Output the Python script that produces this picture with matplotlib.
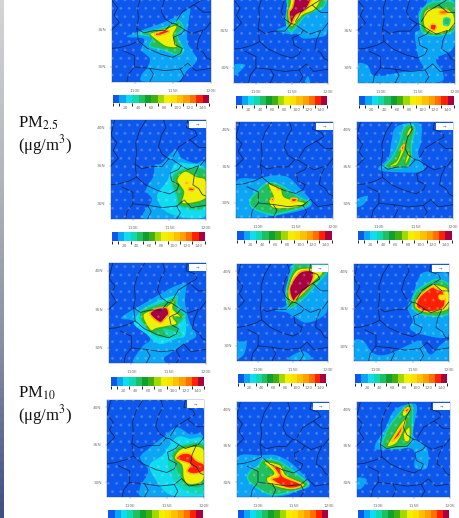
import numpy as np
import matplotlib.pyplot as plt
from matplotlib.colors import ListedColormap, BoundaryNorm, LinearSegmentedColormap
from matplotlib.cm import ScalarMappable
from matplotlib.patches import PathPatch, Rectangle
from matplotlib.path import Path

plt.rcParams['mathtext.fontset'] = 'stix'

W, H = 459, 518

# color scale (ug/m3)
levels = list(range(0, 160, 10))
bar_ticks = [20, 40, 60, 80, 100, 120, 140]
bar_colors = ['#0c58ec', '#0aa5f5', '#10dcf0', '#10d8b0', '#20c060', '#10a030', '#40b010', '#a0d800',
              '#f0f000', '#ffe000', '#ffc000', '#ffa000', '#ff7000', '#ff2000', '#a80040']
# band of the next lower class drawn round a filled contour
ring_levels = {45: 35, 85: 65, 115: 95, 125: 105, 135: 105, 145: 115}
lon_ticks = [110, 115, 120]
lat_ticks = [30, 35, 40]

# province lines, lon/lat
borders = [
    [(111.8, 41), (110.9, 39.6), (110.4, 38), (110.5, 36.5), (110.3, 35.2), (111.2, 34.6), (112.5, 34.9),
     (114, 34.9), (114.9, 35.9), (114, 36.5), (113.5, 37.5), (113.9, 39), (114.5, 40), (114.2, 41)],
    [(110.5, 33.5), (111.7, 32.5), (113.5, 31.7), (115, 31.3), (116, 31.8), (116.3, 32.5), (115.3, 33),
     (115.1, 34), (116.2, 34.5), (116.6, 35), (115.4, 35.8), (114.9, 35.9)],
    [(110.3, 35.2), (110.5, 33.5), (109.5, 33), (108, 32.6), (107, 32.5)],
    [(115.5, 36.2), (116.3, 37.5), (117.8, 38.4), (119, 37.4), (120, 37.4)],
    [(116.6, 35), (117.5, 34.5), (119, 35), (118.4, 33.7), (118.2, 32.5), (119, 32), (119.5, 31.2), (120, 31)],
    [(119.2, 35), (120, 36)],
    [(108.5, 32.2), (110, 31.5), (110, 30), (109.2, 29), (109, 28)],
    [(110, 30), (112, 29.8), (114, 29.5), (116, 29.7), (117, 30.5), (118, 29.5), (120, 29.8)],
    [(116, 29.7), (116.5, 28.8), (116, 28)],
    [(107.5, 41), (107, 39), (107.8, 38), (107.3, 37), (108, 36), (107, 35)],
    [(117.5, 41), (117.3, 40), (118.5, 39.6), (118.8, 39), (117.8, 38.4)],
    [(112, 28), (112.5, 29), (112, 29.8)],
]

# each panel: (level, outline) from low to high
pm25_a = [
    (15, [(117.3, 37.9), (116.2, 37.2), (114, 36.1), (111.6, 35.2), (109, 34.1), (111.2, 33.8), (110.9, 32.3),
          (112, 31.1), (111.6, 29.8), (110.9, 28.9), (111.2, 28), (115.6, 28), (116.9, 29.5), (118.2, 30.9),
          (117.5, 32.3), (116.9, 33.6), (117.1, 36.3)]),
    (45, [(110.5, 34.5), (112.9, 35), (114.7, 35.6), (115.8, 36.2), (116.4, 35.2), (115.6, 34.2), (116.4, 32.3),
          (115.6, 31.6), (113.8, 32.3), (112, 32.8), (112.4, 34)]),
    (85, [(112, 34.5), (113.8, 35), (115.1, 35.6), (115.6, 35.4), (115.1, 34.2), (115.6, 32.7), (114.2, 32.7),
          (113.1, 33.4)]),
    (135, [(112.7, 34.5), (114.2, 35), (114.5, 34.7), (113.1, 34.2)]),
]
pm25_b = [
    (15, [(112.9, 35), (114.3, 35.8), (114.5, 37.6), (114.7, 41), (120, 41), (120, 36.3), (119.8, 34.5),
          (118.9, 34.1), (116.6, 33.9), (115.7, 34.5), (114.5, 34.5)]),
    (15, [(107, 30.4), (108.5, 30.4), (107.8, 29.5), (107, 29)]),
    (15, [(116.8, 28), (117.2, 28.9), (117.5, 28)]),
    (45, [(114.7, 34.9), (114.2, 36.3), (114.4, 38.2), (114.6, 41), (119.8, 41), (119.4, 38.2), (117.5, 37.4),
          (116.4, 36.5), (115.4, 35.2)]),
    (85, [(114.6, 35.8), (114.4, 37.4), (114.7, 38.5), (115.4, 41), (119.4, 41), (118.4, 38), (116.5, 37),
          (115.2, 35.6)]),
    (145, [(114.8, 36), (114.6, 37.4), (115.1, 38.2), (115.9, 41), (118.2, 41), (117.1, 38), (115.6, 37),
           (115, 35.9)]),
]
pm25_c = [
    (15, [(116.2, 38.7), (115.1, 37.4), (115.3, 35.2), (114.6, 34.5), (115.1, 31.4), (115.7, 29.9), (113.5, 29.5),
          (110.8, 29), (109.5, 28), (117.5, 28), (118.4, 29.3), (117.5, 31.2), (120, 33.2), (120, 41), (116.2, 41)]),
    (15, [(107, 30.5), (108.3, 30.3), (109, 29), (110.8, 28.9), (109.5, 28), (107, 28)]),
    (45, [(116.4, 38.5), (115.3, 36.9), (115.7, 34.7), (117.5, 34.3), (119.3, 34.7), (120, 35.4), (120, 38.5),
          (118.4, 38.9)]),
    (85, [(116.2, 37.8), (115.7, 36.4), (116.2, 34.9), (117.9, 34.5), (119.8, 35.4), (119.8, 37.2), (118.4, 38)]),
    (45, [(118.6, 36.6), (119.3, 36.5), (119.1, 35.7), (118.5, 35.8)]),
    (135, [(116.8, 35.8), (117.5, 35.7), (117.3, 35), (116.7, 35.2)]),
    (125, [(118, 37.6), (119, 37.7), (118.8, 37.2), (118, 37.2)]),
]
pm25_d = [
    (15, [(115.8, 37.1), (113.9, 35.3), (113, 35.1), (112.8, 33.6), (111.8, 31.8), (112.6, 30.5), (111.4, 28.7),
          (111.9, 28), (120, 28), (120, 35.1), (118.5, 35.3), (116.7, 36)]),
    (25, [(115.8, 35.3), (115.1, 34), (114.6, 32.9), (113.3, 30.9), (115.1, 28.7), (120, 28.5), (120, 34.4),
          (117.4, 35.3)]),
    (45, [(116.5, 34.4), (115.3, 33.1), (116, 30.9), (116.5, 29.6), (120, 29.6), (120, 34.4)]),
    (85, [(117.1, 34.3), (116, 33.1), (116.9, 31.6), (116.8, 30), (120, 30.7), (120, 33.1), (118.7, 33.6)]),
    (135, [(117.7, 32.1), (118.4, 32), (118.2, 31.7), (117.6, 31.8)]),
    (115, [(117.2, 32.9), (117.6, 32.9), (117.5, 32.5), (117.1, 32.6)]),
]
pm25_e = [
    (15, [(107, 32.9), (110, 33.3), (112, 33.75), (114, 33.5), (115.6, 32), (117.2, 30), (115.8, 29), (111.6, 28.2),
          (107, 28)]),
    (45, [(109.8, 31.5), (111.2, 32.7), (113, 32.4), (115.5, 30.8), (116.9, 30), (115.7, 29.3), (113, 28.6),
          (111.8, 28.4), (109.3, 29.3), (108.9, 30.4)]),
    (85, [(111.3, 32.6), (113, 32), (113.6, 30.8), (116.3, 30), (114.7, 29.3), (112, 29.3), (111.4, 30.4),
          (112, 30.8)]),
    (135, [(112.5, 32.1), (112.9, 32), (112.7, 31.7)]),
    (135, [(111.7, 30.6), (112.1, 30.6), (111.9, 30.2)]),
    (135, [(114.4, 30.6), (115.2, 30.6), (115, 30.2), (114.5, 30.2)]),
]
pm25_f = [
    (15, [(112.4, 40.4), (115.5, 40.8), (115.7, 38.4), (115.3, 36.7), (116, 34.4), (112.4, 34.2), (109.9, 34.6),
          (111.3, 36.2), (111.7, 38.4)]),
    (15, [(107, 30.5), (108.5, 31), (108, 29.9), (107, 29.5)]),
    (45, [(113.5, 40.4), (114.8, 40.3), (114.4, 38), (114, 35.1), (110.9, 34.9), (111.8, 36.2), (112.7, 38)]),
    (85, [(111.3, 35), (112.4, 35.8), (113.1, 37.5), (113.7, 38.4), (113.5, 37.3), (112.6, 35.4), (111.9, 35)]),
    (85, [(114, 40), (114.5, 40.3), (114.2, 39.3), (113.7, 39.1)]),
    (85, [(113.5, 35.5), (114, 37.1), (114.2, 36.4), (113.7, 35.3)]),
    (135, [(113, 37.5), (113.5, 38), (113.2, 37.2)]),
]
pm10_a = [
    (15, [(116.7, 38.3), (115.2, 37.7), (112.5, 36.2), (108.7, 34), (110, 33.6), (110.7, 33.1), (112.5, 31.2),
          (111.4, 30.1), (110.3, 28), (114.3, 28), (114.5, 28.8), (117.4, 30.7), (118.7, 31.6), (117.8, 33.3),
          (117.2, 36), (117.4, 38.3)]),
    (25, [(115.8, 36.8), (112, 35.3), (110.3, 33.3), (112, 31.8), (113.8, 30.5), (116, 31.2), (117.2, 31.6),
          (117.2, 34), (116, 36)]),
    (45, [(116.1, 36.7), (115, 36.2), (111.2, 34.7), (112, 32.5), (113.8, 31.4), (116.7, 31.6), (116.1, 32.7),
          (117.2, 34.2), (116.1, 35.3)]),
    (85, [(115.8, 36.2), (114.5, 35.3), (111.6, 34.4), (112.5, 32.3), (113.4, 32.5), (114.5, 32.7), (116.1, 33.1),
          (115.6, 34), (116.7, 34), (115.6, 35.1)]),
    (35, [(114.3, 32.5), (116.7, 31.8), (115.2, 31.4)]),
    (145, [(114.7, 35.2), (113.4, 35.1), (112.5, 34.4), (113.8, 33.3), (114.5, 33.8), (115, 34.4)]),
]
pm10_b = [
    (15, [(112.4, 34.8), (114.3, 35.8), (114.3, 39.2), (115.2, 41), (120, 41), (120, 35.6), (119.3, 34), (116.9, 33.1),
          (115, 34), (114, 34.5)]),
    (15, [(107, 30.4), (108.3, 30.4), (107.9, 28.8), (107, 28.4)]),
    (15, [(114.3, 28.2), (116.4, 29.3), (117.6, 28.2)]),
    (45, [(114.5, 35.1), (114, 37.4), (115, 40.3), (115.5, 41), (120, 40.8), (120, 40.1), (117.9, 37.8), (116.4, 36.3)]),
    (85, [(114.6, 35.8), (114.3, 37.8), (115.7, 40.3), (119.3, 40.1), (117.9, 38.5), (116.2, 36.7)]),
    (145, [(115, 36), (114.5, 37.8), (116, 39.9), (117.9, 39.9), (117.4, 38.1), (115.7, 36.7)]),
]
pm10_c = [
    (15, [(116.2, 39.7), (114.9, 36.6), (114.3, 35.2), (115, 33.4), (114.6, 32.5), (115.5, 31.8), (119.1, 31.1),
          (120, 32.3), (120, 39.2), (118.3, 39.8)]),
    (15, [(107, 30.7), (108.3, 30.7), (109.6, 29.1), (111.5, 28.9), (114.9, 30.4), (116, 30.7), (117.4, 28.9),
          (118.8, 30.2), (120, 30.7), (120, 28), (107, 28)]),
    (45, [(117.4, 38.6), (115.5, 37.3), (115, 35.2), (116.9, 34.1), (120, 34.5), (120, 38), (118.5, 38.9)]),
    (85, [(117.6, 38.2), (115.8, 36.8), (115.3, 35.2), (117.1, 34.5), (119.9, 35), (119.9, 37.5), (118.5, 38.2)]),
    (135, [(117.6, 37.9), (115.9, 36.6), (115.6, 35.2), (117.4, 34.6), (119.3, 35.3), (119.2, 37.2), (118.2, 37.7)]),
    (90, [(118.6, 36.9), (119.4, 36.8), (119.3, 36.2), (118.6, 36.3)]),
]
pm10_d = [
    (15, [(116.3, 37.3), (114.5, 36), (112.7, 34.6), (111.4, 33.3), (112.5, 31.5), (111.4, 29.3), (112.1, 28), (120, 28),
          (120, 35.8), (118.1, 36.4)]),
    (25, [(116.3, 36), (114.5, 33.7), (112.7, 32.2), (114.1, 29.5), (115.9, 28.2), (120, 28.2), (120, 35.3),
          (118.1, 35.8)]),
    (35, [(116.1, 34.4), (115.2, 33.3), (115.4, 31.5), (116.8, 29.3), (120, 28.8), (120, 34.9), (117.7, 35)]),
    (45, [(117, 34.9), (115.7, 33.8), (116.1, 32.2), (116.8, 30.4), (117.4, 29.5), (120, 29.7), (120, 34.9)]),
    (85, [(117.2, 34.6), (116, 33.3), (117, 32.2), (117.2, 30.6), (117.9, 29.7), (120, 30.4), (120, 34.4)]),
    (135, [(117, 33.8), (116.3, 33.1), (118.1, 32.4), (117.7, 31.5), (118.6, 31.1), (120, 31.5), (120, 32.4),
           (119, 32.9), (118.1, 33.8)]),
]
pm10_e = [
    (15, [(107, 33.3), (110.3, 33.7), (112.6, 33.7), (115, 32.4), (117.3, 29.7), (115.5, 28.8), (113.1, 28.1), (107, 28)]),
    (45, [(110, 32.2), (110.8, 33.1), (113.1, 32.8), (115.9, 30.8), (117.1, 29.7), (115, 28.8), (112.2, 28.3),
          (110.3, 29), (108.6, 30.4), (108.9, 31.5)]),
    (85, [(110.8, 32.8), (113.1, 32.4), (114, 31), (116.6, 29.7), (114.5, 29), (111.7, 29.7), (111.2, 30.6),
          (112.2, 31.3)]),
    (135, [(111.9, 32.4), (113.1, 31.9), (113.6, 30.8), (116.2, 29.7), (114.3, 29.2), (111.9, 30.4), (112.9, 30.8),
           (112.6, 31.5)]),
]
pm10_f = [
    (15, [(109.6, 34.6), (111, 37.4), (112.1, 39.7), (113.7, 40.6), (115.4, 40.4), (114.9, 36.5), (116.8, 34.7),
          (116.8, 32), (115.1, 32), (115.1, 33.8), (114.2, 34.7)]),
    (15, [(107, 30.6), (108.4, 30.4), (107.7, 29.2), (107, 29.2)]),
    (45, [(110.7, 34.9), (111.4, 37.4), (113, 39.5), (113.9, 40.4), (114.7, 40.4), (114.7, 37), (114, 34.9)]),
    (85, [(111.2, 34.9), (112.1, 36.5), (113.3, 38.3), (114, 38.8), (113.7, 37.4), (112.6, 35.4)]),
    (85, [(113.3, 39.5), (114, 40.4), (114.7, 40.1), (113.7, 39)]),
    (85, [(113.7, 35.6), (113.5, 36.7), (114.4, 37.6), (114.4, 35.8)]),
    (135, [(111.9, 35.6), (112.8, 37), (113.5, 37.9), (113, 36.5)]),
    (135, [(113.7, 39.9), (114.4, 40.2), (114, 39.6)]),
]

# pixel boxes: left, top, right, bottom
map_boxes = [
    (111.7, -14.5, 210.7, 81.7), (234.3, -14.5, 328, 82.7), (358, -14.5, 455, 82.7),
    (111, 120, 206, 219), (236, 122, 332.7, 217.7), (356.7, 122, 453, 218),
    (109, 263, 206, 363.3), (237.3, 264, 328, 360.7), (354, 264, 449.3, 361.3),
    (107.3, 399.7, 204, 497.3), (236.7, 402, 329, 497), (356.7, 402, 450, 497),
]
bar_boxes = [
    (113, 94.7, 209, 103), (236, 96, 326.7, 104.7), (359, 96, 454, 105),
    (112, 232, 204.7, 241), (237.3, 231, 331.7, 240), (358, 231, 451.7, 240),
    (110.7, 377, 204.3, 385.7), (238, 374, 326.3, 383), (355.3, 374.3, 447.3, 383),
    (108.3, 510.3, 202.7, 520), (238.3, 510, 327.7, 520), (358, 510, 449, 520),
]
panels = [pm25_a, pm25_b, pm25_c, pm25_d, pm25_e, pm25_f, pm10_a, pm10_b, pm10_c, pm10_d, pm10_e, pm10_f]

cmap = ListedColormap(bar_colors)
norm = BoundaryNorm(levels, cmap.N)
tick_gray = '#777777'


def rect(box):
    l, t, r, b = box
    return [l / W, 1 - b / H, (r - l) / W, (b - t) / H]


def smooth(points):
    # closed curve through the read points (catmull-rom as bezier)
    pts = np.array(points, dtype=float)
    n = len(pts)
    verts, codes = [pts[0]], [Path.MOVETO]
    for i in range(n):
        p0, p1, p2, p3 = pts[i - 1], pts[i], pts[(i + 1) % n], pts[(i + 2) % n]
        verts += [p1 + (p2 - p0) / 6, p2 - (p3 - p1) / 6, p2]
        codes += [Path.CURVE4] * 3
    return Path(verts, codes)


fig = plt.figure(figsize=(W / 100, H / 100), dpi=100, facecolor='white')

# slide edge
strip = fig.add_axes(rect((0, 0, 3.5, H)))
strip_cmap = LinearSegmentedColormap.from_list('edge', ['#d4d4d6', '#b4b6bc', '#8a90a4', '#3f4f86'])
strip.imshow(np.linspace(0, 1, 64).reshape(-1, 1), aspect='auto', cmap=strip_cmap)
strip.axis('off')

for i, (panel, box, bar) in enumerate(zip(panels, map_boxes, bar_boxes)):
    ax = fig.add_axes(rect(box))
    ax.set_xlim(107, 120)
    ax.set_ylim(28, 41)
    ax.set_facecolor(bar_colors[0])
    for level, outline in panel:
        ring = ring_levels.get(level)
        edge = cmap(norm(ring)) if ring else 'none'
        ax.add_patch(PathPatch(smooth(outline), fc=cmap(norm(level)), ec=edge, lw=1.1, zorder=2))
    for line in borders:
        xs, ys = zip(*line)
        ax.plot(xs, ys, color='#0c1a40', lw=0.6, alpha=0.8, zorder=3)
    # wind arrows show up as a faint stipple
    ax.add_patch(Rectangle((107, 28), 13, 13, fc='none', ec=(0.8, 0.85, 1, 0.2), lw=0, hatch='..', zorder=4))
    if i >= 3:
        ax.add_patch(Rectangle((117.7, 39.95), 2.3, 0.95, fc='white', ec='none', zorder=5))
        ax.text(118.85, 40.4, '\u2192', fontsize=3, color='#777777', ha='center', va='center', zorder=6)
    ax.set_xticks(lon_ticks)
    ax.set_xticklabels([f'{v}E' for v in lon_ticks])
    # the first row runs off the top of the slide, so no 40N there
    shown = lat_ticks[:2] if i < 3 else lat_ticks
    ax.set_yticks(shown)
    ax.set_yticklabels([f'{v}N' for v in shown])
    ax.tick_params(labelsize=3.1, colors=tick_gray, length=1.5, width=0.3, pad=3.5)
    ax.tick_params(axis='y', pad=2.5)
    for s in ax.spines.values():
        s.set_linewidth(0.3)
        s.set_color('#30509a')

    cax = fig.add_axes(rect(bar))
    # the last row of bars is cut by the slide edge, its labels are gone
    cb = fig.colorbar(ScalarMappable(norm=norm, cmap=cmap), cax=cax, orientation='horizontal',
                      ticks=bar_ticks if i < 9 else [], drawedges=False)
    cb.outline.set_visible(False)
    cb.ax.tick_params(labelsize=3.1, colors=tick_gray, length=0, pad=2.5)

serif = ['Liberation Serif', 'DejaVu Serif']
fig.text(18 / W, 1 - 128 / H, r'PM$_{2.5}$', fontsize=12, family=serif, color='#111111')
fig.text(18 / W, 1 - 150 / H, '(\u03bcg/m$^{3}$)', fontsize=12, family=serif, color='#111111')
fig.text(18 / W, 1 - 398 / H, r'PM$_{10}$', fontsize=12, family=serif, color='#111111')
fig.text(18 / W, 1 - 420 / H, '(\u03bcg/m$^{3}$)', fontsize=12, family=serif, color='#111111')

fig.savefig('out.png', dpi=100)
